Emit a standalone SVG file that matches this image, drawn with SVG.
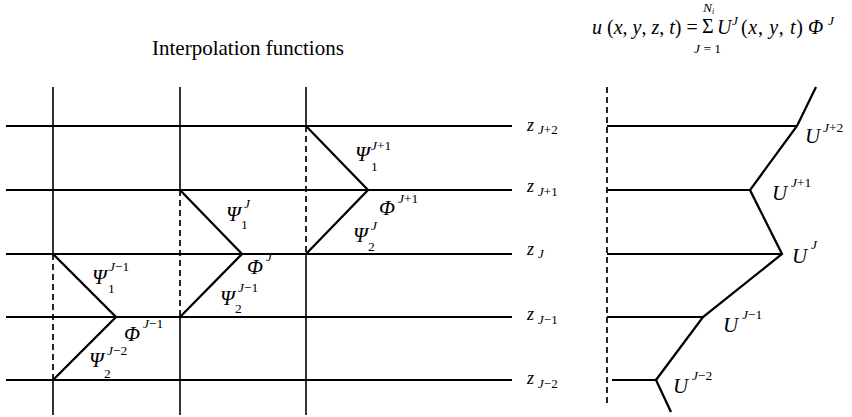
<svg xmlns="http://www.w3.org/2000/svg" width="852" height="417" viewBox="0 0 852 417">
<style>
.ln{stroke:#000;stroke-width:2;fill:none}
.vl{stroke:#000;stroke-width:1.6;fill:none}
.ds{stroke:#000;stroke-width:1.7;fill:none;stroke-dasharray:6 4}
.hat{stroke:#000;stroke-width:2.3;fill:none;stroke-linejoin:miter}
text{font-family:"Liberation Serif","Times New Roman",serif;fill:#000}
.g{font-size:21px;font-style:italic}
.sp{font-size:13.5px;font-style:italic}
.sb{font-size:13.5px}
.z{font-size:18px;font-style:italic}
.zs{font-size:13px;font-style:italic}
.i{font-style:italic}
.r{font-style:normal}
.t{font-size:21px}
.f{font-size:20px}
</style>
<rect width="852" height="417" fill="#fff"/>
<g id="title"><text class="t" x="152" y="55">Interpolation functions</text></g>

<g id="grid">
<line class="ln" x1="6" y1="126" x2="512" y2="126"/>
<line class="ln" x1="6" y1="190" x2="512" y2="190"/>
<line class="ln" x1="6" y1="254" x2="512" y2="254"/>
<line class="ln" x1="6" y1="317" x2="512" y2="317"/>
<line class="ln" x1="6" y1="380" x2="512" y2="380"/>
<line class="vl" x1="53" y1="87" x2="53" y2="254"/>
<line class="ds" x1="53" y1="254" x2="53" y2="380"/>
<line class="vl" x1="53" y1="380" x2="53" y2="415"/>
<line class="vl" x1="180" y1="87" x2="180" y2="190"/>
<line class="ds" x1="180" y1="190" x2="180" y2="317"/>
<line class="vl" x1="180" y1="317" x2="180" y2="415"/>
<line class="vl" x1="306" y1="87" x2="306" y2="126"/>
<line class="ds" x1="306" y1="126" x2="306" y2="254"/>
<line class="vl" x1="306" y1="254" x2="306" y2="415"/>
</g>

<g id="hats">
<polyline class="hat" points="306,126 368,190 306,254"/>
<polyline class="hat" points="180,190 242,254 180,317"/>
<polyline class="hat" points="53,254 116,317 53,380"/>
</g>

<g id="z-labels">
<text class="z" x="527" y="131">z<tspan class="zs" dx="4" dy="3">J<tspan class="r">+2</tspan></tspan></text>
<text class="z" x="527" y="192">z<tspan class="zs" dx="4" dy="4">J<tspan class="r">+1</tspan></tspan></text>
<text class="z" x="527" y="255">z<tspan class="zs" dx="4" dy="3">J</tspan></text>
<text class="z" x="527" y="320">z<tspan class="zs" dx="4" dy="4">J<tspan class="r">−1</tspan></tspan></text>
<text class="z" x="527" y="384">z<tspan class="zs" dx="4" dy="4">J<tspan class="r">−2</tspan></tspan></text>
</g>

<g id="psi-labels">
<text class="g" x="355" y="161">Ψ</text><text class="sp" x="371" y="150">J<tspan class="r">+1</tspan></text><text class="sb" x="371" y="171">1</text>
<text class="g" x="379" y="215">Φ</text><text class="sp" x="398" y="203">J<tspan class="r">+1</tspan></text>
<text class="g" x="353" y="242">Ψ</text><text class="sp" x="371" y="230">J</text><text class="sb" x="368" y="251">2</text>
<text class="g" x="226" y="221">Ψ</text><text class="sp" x="244" y="208">J</text><text class="sb" x="241" y="229">1</text>
<text class="g" x="247" y="274">Φ</text><text class="sp" x="266" y="261">J</text>
<text class="g" x="220" y="305">Ψ</text><text class="sp" x="238" y="292">J<tspan class="r">−1</tspan></text><text class="sb" x="235" y="313">2</text>
<text class="g" x="92" y="284">Ψ</text><text class="sp" x="109" y="271">J<tspan class="r">−1</tspan></text><text class="sb" x="108" y="293">1</text>
<text class="g" x="124" y="341">Φ</text><text class="sp" x="143" y="328">J<tspan class="r">−1</tspan></text>
<text class="g" x="89" y="367">Ψ</text><text class="sp" x="107" y="355">J<tspan class="r">−2</tspan></text><text class="sb" x="104" y="378">2</text>
</g>

<g id="formula">
<text class="f" x="592" y="34"><tspan class="i">u</tspan> (<tspan class="i">x</tspan>, <tspan class="i">y</tspan>, <tspan class="i">z</tspan>, <tspan class="i">t</tspan>) =</text>
<text class="f" x="702" y="33">Σ</text>
<text class="sp" x="703" y="12">N<tspan font-size="8" dy="2">i</tspan></text>
<text class="sb" x="694" y="53"><tspan class="i">J</tspan> = 1</text>
<text class="f i" x="717" y="34">U</text><text class="sp" x="732" y="25">J</text>
<text class="f" x="741" y="34" textLength="62" lengthAdjust="spacing">(<tspan class="i">x</tspan>, <tspan class="i">y</tspan>, <tspan class="i">t</tspan>)</text>
<text class="f i" x="808" y="34">Φ</text><text class="sp" x="828" y="25">J</text>
</g>

<g id="right-panel">
<line class="ds" x1="607" y1="87" x2="607" y2="405"/>
<line class="ln" x1="607" y1="126" x2="797" y2="126"/>
<line class="ln" x1="607" y1="190" x2="750" y2="190"/>
<line class="ln" x1="607" y1="254" x2="782" y2="254"/>
<line class="ln" x1="607" y1="317" x2="703" y2="317"/>
<line class="ln" x1="612" y1="380" x2="656" y2="380"/>
<polyline class="hat" points="816,87 797,126 750,190 782,254 703,317 656,380 671,412"/>
</g>

<g id="u-labels">
<text class="g" x="805" y="143">U</text><text class="sp" x="823" y="132">J<tspan class="r">+2</tspan></text>
<text class="g" x="772" y="200">U</text><text class="sp" x="791" y="187">J<tspan class="r">+1</tspan></text>
<text class="g" x="792" y="263">U</text><text class="sp" x="811" y="249">J</text>
<text class="g" x="723" y="332">U</text><text class="sp" x="742" y="319">J<tspan class="r">−1</tspan></text>
<text class="g" x="673" y="393">U</text><text class="sp" x="692" y="380">J<tspan class="r">−2</tspan></text>
</g>
</svg>
